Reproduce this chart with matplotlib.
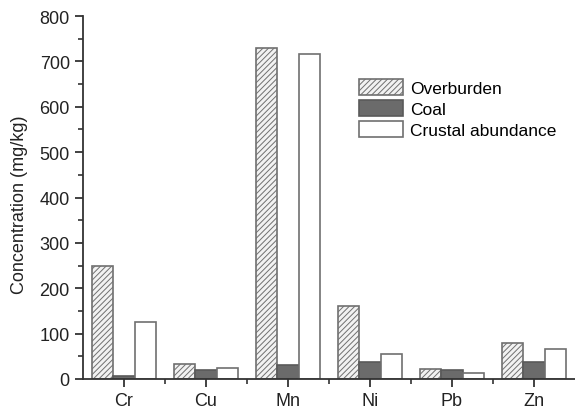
import numpy as np
import matplotlib
matplotlib.use("Agg")
import matplotlib.pyplot as plt

elements = ["Cr", "Cu", "Mn", "Ni", "Pb", "Zn"]
overburden = [248, 33, 730, 160, 23, 80]
coal = [7, 20, 30, 38, 20, 37]
crustal = [126, 25, 717, 56, 14, 65]

plt.rcParams["font.family"] = ["Liberation Sans", "DejaVu Sans"]
plt.rcParams["hatch.linewidth"] = 0.7

EDGE = "#5a5a5a"

fig = plt.figure(figsize=(5.75, 4.1), dpi=100)
ax = fig.add_axes([0.1443, 0.0732, 0.8557, 0.8853])

x = np.arange(len(elements))
w = 0.262
ax.bar(x - w, overburden, w, facecolor="#f2f2f2", edgecolor="#707070",
       hatch="//////", linewidth=1.2, label="Overburden")
ax.bar(x, coal, w, facecolor="#6b6b6b", edgecolor=EDGE, linewidth=1.2,
       label="Coal")
ax.bar(x + w, crustal, w, facecolor="white", edgecolor="#707070",
       linewidth=1.2, label="Crustal abundance")

ax.set_xlim(-0.5, 5.5)
ax.set_ylim(0, 800)
ax.set_xticks(x)
ax.set_xticklabels(elements)
ax.set_xticks(x[:-1] + 0.5, minor=True)
ax.set_yticks(np.arange(0, 801, 100))
ax.set_yticks(np.arange(50, 800, 100), minor=True)
ax.set_ylabel("Concentration (mg/kg)", fontsize=13, color="#222222")
ax.yaxis.set_label_coords(-0.112, 0.482)

for s in ["top", "right"]:
    ax.spines[s].set_visible(False)
for s in ["left", "bottom"]:
    ax.spines[s].set_linewidth(1.3)
    ax.spines[s].set_color("#333333")
ax.tick_params(which="major", direction="out", length=6, width=1.3,
               labelsize=13, colors="#333333", labelcolor="#222222")
ax.tick_params(which="minor", direction="out", length=3.5, width=1.2,
               colors="#333333")

ax.legend(loc="upper left", bbox_to_anchor=(0.53, 0.869), frameon=False,
          fontsize=12.5, handlelength=2.5, handleheight=1.0,
          handletextpad=0.4, labelspacing=0.25)

fig.savefig("out.png", dpi=100, facecolor="white")
